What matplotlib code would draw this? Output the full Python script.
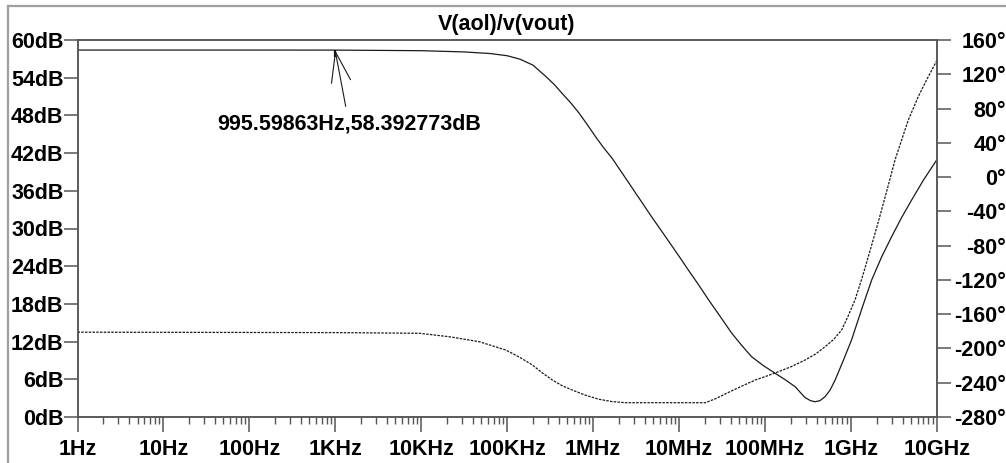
import numpy as np
import matplotlib
matplotlib.use('Agg')
import matplotlib.pyplot as plt
from matplotlib.lines import Line2D
from matplotlib.ticker import FixedLocator, LogLocator, NullFormatter

plt.rcParams['font.family'] = ['Liberation Sans', 'DejaVu Sans']
plt.rcParams['font.weight'] = 'bold'

# gain trace, V(aol)/v(vout) magnitude
mag_freq = [1, 10, 100, 995.59863, 1e4, 3.16e4, 6.31e4, 1e5, 1.41e5, 2e5,
            2.82e5, 3.55e5, 4.37e5, 5.5e5, 6.86e5, 8.51e5, 1.07e6, 1.32e6,
            1.66e6, 2.24e6, 3.13e6, 4.68e6, 6.97e6, 1e7, 1.3e7, 1.7e7,
            2.22e7, 3.02e7, 4.1e7, 5.37e7, 7.01e7, 9.55e7, 1.32e8, 1.74e8,
            2.25e8, 2.63e8, 2.94e8, 3.39e8, 3.85e8, 4.37e8, 5.02e8, 5.75e8,
            6.58e8, 8.13e8, 1.02e9, 1.35e9, 1.75e9, 2.29e9, 2.99e9, 3.89e9,
            5.09e9, 7.08e9, 1e10]
mag_db = [58.40, 58.40, 58.40, 58.392773, 58.30, 58.10, 57.85, 57.50, 56.95, 56.00,
          54.20, 52.90, 51.50, 50.00, 48.38, 46.60, 44.61, 42.90,
          41.22, 38.60, 35.65, 32.10, 28.70, 25.60, 23.30, 21.00,
          18.62, 16.00, 13.37, 11.40, 9.60, 8.20, 6.95, 5.90,
          4.82, 3.80, 3.10, 2.60, 2.43, 2.60, 3.23, 4.30,
          5.89, 8.90, 12.25, 17.30, 21.80, 25.50, 28.70, 31.70,
          34.50, 37.80, 40.90]

# phase trace (dotted)
ph_freq = [1, 1e3, 9.5e3, 2.12e4, 4.73e4, 9.66e4, 1.41e5, 1.97e5, 2.57e5, 3.36e5,
           4.37e5, 5.73e5, 8.13e5, 1.17e6, 1.66e6, 2.39e6, 2.03e7, 2.69e7,
           3.59e7, 5.25e7, 7.73e7, 1e8, 1.32e8, 2e8, 2.94e8, 3.89e8,
           5.02e8, 6.31e8, 7.83e8, 9.33e8, 1.12e9, 1.35e9, 1.6e9, 2.09e9,
           2.74e9, 3.27e9, 4.67e9, 6.1e9, 7.59e9, 1e10]
ph_deg = [-181.0, -181.5, -182.3, -186.3, -192.1, -201.8, -210.5, -219.3, -228.5, -236.8,
          -243.5, -248.5, -254.5, -259.3, -262.0, -263.3, -263.3, -258.5,
          -252.3, -244.5, -236.8, -233.0, -228.6, -221.5, -213.5, -206.5,
          -198.0, -189.5, -178.5, -162.0, -143.4, -118.0, -92.9, -52.4,
          -9.2, 19.9, 66.6, 93.8, 113.0, 135.8]

# cursor readout
cur_f = 995.59863
cur_db = 58.392773

x_ticks = [1, 10, 100, 1e3, 1e4, 1e5, 1e6, 1e7, 1e8, 1e9, 1e10]
x_labels = ['1Hz', '10Hz', '100Hz', '1KHz', '10KHz', '100KHz', '1MHz', '10MHz',
            '100MHz', '1GHz', '10GHz']
db_ticks = list(range(0, 61, 6))
deg_ticks = list(range(-280, 161, 40))

axcol = '#555555'
trace = '#1a1a1a'
fs = 15.5

fig = plt.figure(figsize=(10.06, 4.63), dpi=100)
ax = fig.add_axes([77.5/1006, 1-417/463, (936.7-77.5)/1006, (417-40)/463])
ax2 = ax.twinx()

ax.plot(mag_freq, mag_db, color=trace, lw=0.9)
ax2.plot(ph_freq, ph_deg, color=trace, lw=0.9, ls=(0, (2, 1)))

# cursor tick on the gain trace
ax.plot([cur_f], [cur_db], marker=3, ms=5, mew=1.6, color='#111111')

ax.set_xscale('log')
ax.set_xlim(1, 1e10)
ax.set_ylim(0, 60)
ax2.set_ylim(-280, 160)

ax.xaxis.set_major_locator(FixedLocator(x_ticks))
ax.set_xticklabels(x_labels)
ax.xaxis.set_minor_locator(LogLocator(base=10, subs=range(2, 10), numticks=100))
ax.xaxis.set_minor_formatter(NullFormatter())
ax.set_yticks(db_ticks)
ax.set_yticklabels(['%ddB' % v for v in db_ticks])
ax2.set_yticks(deg_ticks)
ax2.set_yticklabels(['%d\u00b0' % v for v in deg_ticks])

for a in (ax, ax2):
    for s in a.spines.values():
        s.set_color(axcol)
        s.set_linewidth(1.1)
ax.tick_params(axis='x', which='major', direction='out', length=10.5, width=1.1,
               color=axcol, labelsize=fs, pad=5)
ax.tick_params(axis='x', which='minor', direction='out', length=5, width=1.0, color=axcol)
ax.tick_params(axis='y', direction='out', length=10, width=1.1, color=axcol,
               labelsize=fs, pad=0)
ax2.tick_params(axis='y', direction='out', length=10, width=1.1, color=axcol,
                labelsize=fs, pad=40)
for lab in ax2.get_yticklabels():
    lab.set_horizontalalignment('right')

ax.set_title('V(aol)/v(vout)', fontsize=fs, fontweight='bold', pad=7)

ax.annotate('995.59863Hz,58.392773dB', xy=(cur_f, cur_db), xytext=(10, -53),
            textcoords='offset points', ha='center', va='center', fontsize=fs,
            fontweight='bold',
            arrowprops=dict(arrowstyle='->,head_length=1.4,head_width=0.45',
                            color=trace, lw=0.8, shrinkA=3, shrinkB=0))

# window frame
fig.add_artist(Line2D([8/1006, 1], [1-6/463, 1-6/463], color='#a0a0a0', lw=1.6))
fig.add_artist(Line2D([8/1006, 8/1006], [0, 1-6/463], color='#a0a0a0', lw=1.6))

fig.savefig('out.png', dpi=100)
